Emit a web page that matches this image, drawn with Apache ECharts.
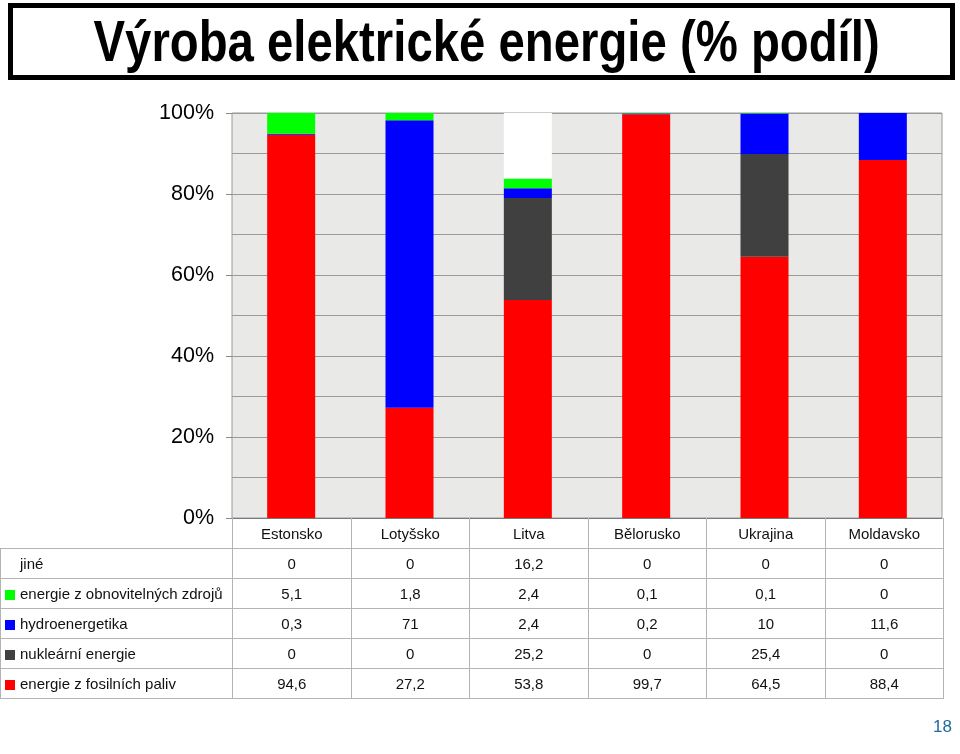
<!DOCTYPE html>
<html>
<head>
<meta charset="utf-8">
<script src="https://cdn.jsdelivr.net/npm/echarts@6/dist/echarts.min.js"></script>
<style>
  html, body { margin: 0; padding: 0; background: #fff; }
  #wrap { position: relative; width: 960px; height: 754px; overflow: hidden; font-family: 'Liberation Sans', Arial, sans-serif; }
  #chart { position: absolute; left: 0; top: 0; width: 960px; height: 754px; }
  #titlebox { position: absolute; left: 8px; top: 3px; width: 937px; height: 67px; border: 5px solid #000; background: #fff; }
  #title { position: absolute; left: 0; top: 0; width: 100%; text-align: center; line-height: 67px; white-space: nowrap; }
  #title span { display: inline-block; font-family: 'Liberation Sans', Arial, sans-serif; font-weight: bold; font-size: 57px; color: #000; transform: scaleX(0.83); transform-origin: 50% 50%; }
  #tbl { position: absolute; left: 0; top: 518px; border-collapse: collapse; table-layout: fixed; width: 943px; font-size: 15px; color: #111; }
  #tbl td { border: 1px solid #b4b4b4; text-align: center; padding: 0; overflow: hidden; white-space: nowrap; }
  #tbl tr.hdr td { height: 30px; border-top: none; }
  #tbl tr.hdr td.blank { border-left: none; border-top: none; }
  #tbl tr.row td { height: 29px; }
  #tbl td.lab { text-align: left; padding-left: 4px; }
  .key { display: inline-block; width: 10px; height: 10px; margin-right: 5px; vertical-align: -1px; }
  #page { position: absolute; left: 933px; top: 717px; font-size: 17px; color: #1d6a9c; }
</style>
</head>
<body>
<div id="wrap">
  <div id="chart"></div>
  <div id="titlebox"><div id="title"><span>Výroba elektrické energie (% podíl)</span></div></div>
  <table id="tbl"></table>
  <div id="page">18</div>
</div>
<script>
const categories = ['Estonsko', 'Lotyšsko', 'Litva', 'Bělorusko', 'Ukrajina', 'Moldavsko'];
const fosilni = [94.6, 27.2, 53.8, 99.7, 64.5, 88.4];
const nuklearni = [0, 0, 25.2, 0, 25.4, 0];
const hydro = [0.3, 71, 2.4, 0.2, 10, 11.6];
const obnovitelne = [5.1, 1.8, 2.4, 0.1, 0.1, 0];
const jine = [0, 0, 16.2, 0, 0, 0];
const yTickLabels = ['0%', '20%', '40%', '60%', '80%', '100%'];

const seriesDefs = [
  { name: 'energie z fosilních paliv', data: fosilni, color: '#ff0000' },
  { name: 'nukleární energie', data: nuklearni, color: '#404040' },
  { name: 'hydroenergetika', data: hydro, color: '#0000ff' },
  { name: 'energie z obnovitelných zdrojů', data: obnovitelne, color: '#00ff00' },
  { name: 'jiné', data: jine, color: '#ffffff' }
];

const chart = echarts.init(document.getElementById('chart'), null, { renderer: 'canvas' });
chart.setOption({
  animation: false,
  grid: { left: 232, right: 18, top: 113, bottom: 236, show: true, backgroundColor: '#e9e9e8', borderColor: '#9a9a9a', borderWidth: 1 },
  xAxis: {
    type: 'category', data: categories,
    axisLabel: { show: false }, axisTick: { show: false },
    axisLine: { show: true, lineStyle: { color: '#7a7a7a', width: 1 } }
  },
  yAxis: {
    type: 'value', min: 0, max: 100, interval: 20,
    axisLine: { show: false },
    axisTick: { show: true, length: 6, lineStyle: { color: '#8a8a8a' } },
    axisLabel: { margin: 18, fontSize: 21.5, color: '#000', fontFamily: 'Liberation Sans, Arial, sans-serif',
      padding: [7, 0, 0, 0],
      formatter: function (v) { return yTickLabels[Math.round(v / 20)]; } },
    splitLine: { show: true, lineStyle: { color: '#9a9a9a', width: 1 } },
    minorTick: { show: false, splitNumber: 2 },
    minorSplitLine: { show: true, lineStyle: { color: '#9a9a9a', width: 1 } }
  },
  series: seriesDefs.map(function (s) {
    return { name: s.name, type: 'bar', stack: 'total', data: s.data, barWidth: 48,
      itemStyle: { color: s.color }, emphasis: { disabled: true } };
  })
});

// data table
const tbl = document.getElementById('tbl');
let html = '<colgroup><col style="width:232px">';
for (let i = 0; i < categories.length; i++) html += '<col style="width:118.5px">';
html += '</colgroup><tr class="hdr"><td class="blank"></td>';
categories.forEach(function (c) { html += '<td>' + c + '</td>'; });
html += '</tr>';
seriesDefs.slice().reverse().forEach(function (s) {
  html += '<tr class="row"><td class="lab">';
  if (s.color !== '#ffffff') html += '<span class="key" style="background:' + s.color + '"></span>';
  else html += '<span class="key"></span>';
  html += s.name + '</td>';
  s.data.forEach(function (v) { html += '<td>' + String(v).replace('.', ',') + '</td>'; });
  html += '</tr>';
});
tbl.innerHTML = html;
</script>
</body>
</html>
